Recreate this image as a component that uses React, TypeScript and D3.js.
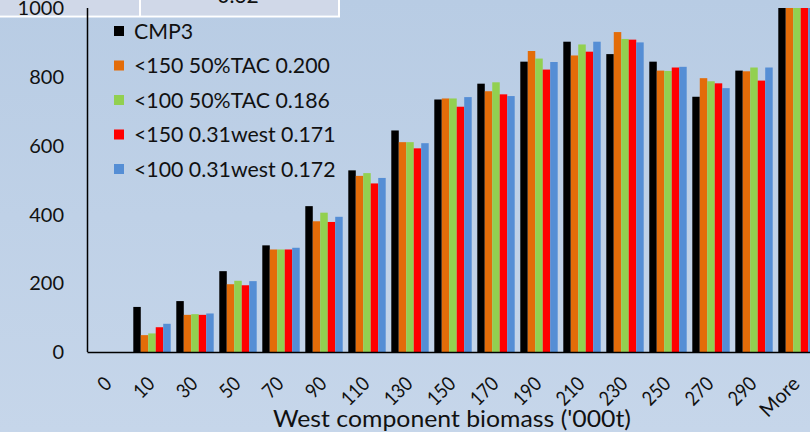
import React from "react";
import * as d3 from "d3";

const categories = ["0", "10", "30", "50", "70", "90", "110", "130", "150", "170", "190", "210", "230", "250", "270", "290", "More"];
const seriesNames = ["CMP3", "<150 50%TAC 0.200", "<100 50%TAC 0.186", "<150 0.31west 0.171", "<100 0.31west 0.172"];
const seriesColors = ["#000000", "#e36c09", "#92d050", "#ff0000", "#558ed5"];
const cmp3 = [0, 131, 148, 235, 310, 424, 528, 644, 734, 780, 844, 902, 866, 844, 742, 818, 1000];
const tac150 = [0, 49, 108, 197, 298, 380, 512, 610, 737, 758, 875, 862, 930, 818, 796, 816, 1000];
const tac100 = [0, 54, 110, 207, 298, 405, 520, 610, 737, 784, 853, 894, 910, 817, 787, 827, 1000];
const west150 = [0, 72, 108, 194, 298, 378, 490, 592, 713, 749, 821, 873, 908, 827, 781, 789, 1000];
const west100 = [0, 82, 112, 206, 303, 393, 506, 607, 741, 744, 843, 902, 900, 829, 767, 827, 1000];
const seriesValues = [cmp3, tac150, tac100, west150, west100];
const yTicks = [0, 200, 400, 600, 800, 1000];
const xTitle = "West component biomass ('000t)";
const cellText = "0.32";

const W = 810;
const H = 432;
const FONT = "Lato, 'Open Sans', sans-serif";

export default function App() {
  const x = d3.scaleBand<string>().domain(categories).range([87.5, 87.5 + 43 * 17]).paddingInner(0.13).paddingOuter(0.065);
  const xInner = d3.scaleBand<number>().domain(d3.range(seriesNames.length)).range([0, x.bandwidth()]).padding(0);
  const y = d3.scaleLinear().domain([0, 1000]).range([352, 8]);

  return (
    <svg width={W} height={H} style={{ position: "absolute", left: 0, top: 0, fontFamily: FONT }}>
      <defs>
        <linearGradient id="bg" x1="0" y1="0" x2="0" y2="1">
          <stop offset="0" stopColor="#b8cce4" />
          <stop offset="1" stopColor="#c6d6ea" />
        </linearGradient>
      </defs>
      <rect x={0} y={0} width={W} height={H} fill="url(#bg)" />
      {/* top table cells */}
      <rect x={0} y={0} width={139} height={15.5} fill="#d0d8e8" />
      <rect x={141} y={0} width={197} height={15.5} fill="#d0d8e8" />
      <rect x={0} y={15.5} width={340} height={2} fill="#ffffff" />
      <rect x={139} y={0} width={2} height={17} fill="#ffffff" />
      <rect x={338} y={0} width={2} height={17} fill="#ffffff" />
      <text x={238} y={3} textAnchor="middle" fontSize={21} fill="#111">{cellText}</text>

      {/* bars */}
      {categories.map((c, i) => (
        <g key={c} transform={`translate(${x(c)},0)`}>
          {seriesValues.map((vals, s) => (
            <rect
              key={s}
              x={xInner(s)}
              y={y(vals[i])}
              width={xInner.bandwidth()}
              height={y(0) - y(vals[i])}
              fill={seriesColors[s]}
            />
          ))}
        </g>
      ))}

      {/* axes */}
      <line x1={87.5} x2={87.5} y1={y(1000)} y2={y(0)} stroke="#000" strokeWidth={1.5} />
      <line x1={87.5} x2={W} y1={y(0) + 0.5} y2={y(0) + 0.5} stroke="#000" strokeWidth={1.5} />

      {yTicks.map((t) => (
        <text key={t} x={64} y={y(t)} dy="0.36em" textAnchor="end" fontSize={20} fill="#111">
          {t}
        </text>
      ))}

      {categories.map((c) => {
        const cx = (x(c) as number) + x.bandwidth() / 2 + 4;
        const numeric = /^\d+$/.test(c);
        return (
          <text
            key={c}
            transform={`translate(${cx},385) rotate(-45)`}
            textAnchor="end"
            fontSize={20}
            fill="#111"
            {...(numeric ? { textLength: c.length * 10.2, lengthAdjust: "spacingAndGlyphs" } : {})}
          >
            {c}
          </text>
        );
      })}

      <text x={452} y={427} textAnchor="middle" fontSize={23} textLength={358} lengthAdjust="spacingAndGlyphs" fill="#111">{xTitle}</text>

      {/* legend */}
      {seriesNames.map((n, i) => {
        const cy = 31 + 34.5 * i;
        return (
          <g key={n}>
            <rect x={114} y={cy - 5} width={10} height={10} fill={seriesColors[i]} />
            <text x={134} y={cy} dy="0.36em" fontSize={21.3} fill="#111">{n}</text>
          </g>
        );
      })}
    </svg>
  );
}
